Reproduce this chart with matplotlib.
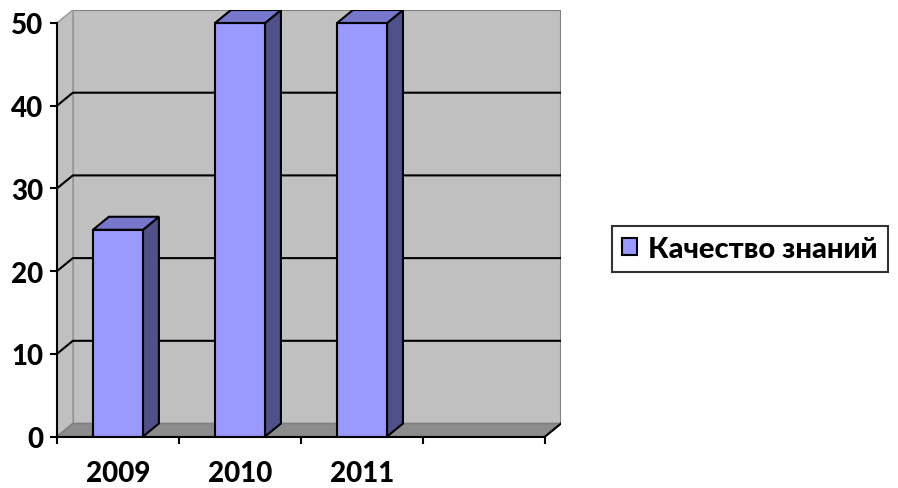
import matplotlib
matplotlib.use('Agg')
import matplotlib.pyplot as plt
from matplotlib.patches import Polygon

# Data
categories = ['2009', '2010', '2011', '']
values = [25, 50, 50]
series_name = 'Качество знаний'
y_ticks = [0, 10, 20, 30, 40, 50]

plt.rcParams['font.family'] = ['Lato', 'Open Sans', 'DejaVu Sans']
plt.rcParams['font.weight'] = 'black'

W, H = 898, 489
fig = plt.figure(figsize=(W / 100, H / 100), dpi=100)

# 3D depth offset (in data units)
dx, dy = 0.13, 1.57
n = len(categories)
ymax = max(y_ticks)
bar_w = 0.41

ax = fig.add_axes([57 / W, 51.5 / H, 504 / W, 426.5 / H])
ax.set_xlim(0, n + dx)
ax.set_ylim(0, ymax + dy)
ax.patch.set_alpha(0)

wall = '#C0C0C0'
edge = '#808080'

# back wall
ax.add_patch(Polygon([(dx, dy), (n + dx, dy), (n + dx, ymax + dy), (dx, ymax + dy)],
                     closed=True, fc=wall, ec=edge, lw=1.5, zorder=1))
# side wall
ax.add_patch(Polygon([(0, 0), (dx, dy), (dx, ymax + dy), (0, ymax)],
                     closed=True, fc=wall, ec='#A0A0A0', lw=1.2, zorder=1))
# floor
ax.add_patch(Polygon([(0, 0), (n, 0), (n + dx, dy), (dx, dy)],
                     closed=True, fc='#8C8C8C', ec=edge, lw=1.2, zorder=1))
ax.plot([n, n + dx], [0, dy], color='black', lw=1.5, zorder=2)

# gridlines on back and side walls
for t in y_ticks[1:-1]:
    ax.plot([0, dx, n + dx], [t, t + dy, t + dy], color='black', lw=1.5, zorder=2)

# bars
x = [i + 0.5 for i in range(len(values))]
bars = ax.bar(x, values, width=bar_w, color='#9999FF', edgecolor='black',
              linewidth=1.5, zorder=3, label=series_name)
for xi, v in zip(x, values):
    r = xi + bar_w / 2
    l = xi - bar_w / 2
    ax.add_patch(Polygon([(r, 0), (r + dx, dy), (r + dx, v + dy), (r, v)],
                         closed=True, fc='#50508A', ec='black', lw=1.5, zorder=3))
    ax.add_patch(Polygon([(l, v), (r, v), (r + dx, v + dy), (l + dx, v + dy)],
                         closed=True, fc='#7777CC', ec='black', lw=1.5, zorder=3))

# axes
for s in ['top', 'right']:
    ax.spines[s].set_visible(False)
ax.spines['left'].set_bounds(0, ymax)
ax.spines['bottom'].set_bounds(0, n)
for s in ['left', 'bottom']:
    ax.spines[s].set_linewidth(1.5)
    ax.spines[s].set_zorder(4)

ax.set_yticks(y_ticks)
ax.set_yticklabels([str(t) for t in y_ticks])
ax.tick_params(axis='y', length=5, width=1.5, pad=5, labelsize=20)

ax.set_xticks(range(n + 1))
ax.set_xticklabels([])
ax.tick_params(axis='x', which='major', length=5, width=1.5, direction='out')
ax.set_xticks([i + 0.5 for i in range(n)], minor=True)
ax.set_xticklabels(categories, minor=True)
ax.tick_params(axis='x', which='minor', length=0, pad=17, labelsize=20)

leg = fig.legend(handles=[bars], labels=[series_name], loc='center left',
                 bbox_to_anchor=(612 / W, 1 - 250 / H), fontsize=21,
                 frameon=True, fancybox=False, edgecolor='black',
                 handlelength=0.5, handleheight=0.5, handletextpad=0.4,
                 borderpad=0.35, borderaxespad=0)
leg.get_frame().set_linewidth(1.5)

fig.savefig('out.png', dpi=100)
